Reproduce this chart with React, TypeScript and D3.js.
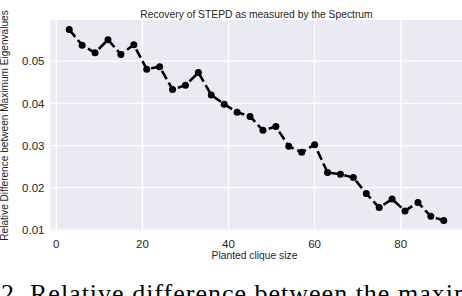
import React from "react";
import * as d3 from "d3";

// planted clique sizes and the measured relative difference
const cliqueSizes = [3, 6, 9, 12, 15, 18, 21, 24, 27, 30, 33, 36, 39, 42, 45, 48, 51, 54, 57, 60, 63, 66, 69, 72, 75, 78, 81, 84, 87, 90];
const relDiff = [
  0.0575, 0.0538, 0.0520, 0.0551, 0.0516, 0.0539, 0.0481, 0.0487, 0.0433, 0.0443,
  0.0473, 0.0420, 0.0398, 0.0379, 0.0369, 0.0336, 0.0345, 0.0298, 0.0284, 0.0302,
  0.0236, 0.0232, 0.0224, 0.0186, 0.0153, 0.0173, 0.0145, 0.0165, 0.0132, 0.0122,
];
const xTicks = [0, 20, 40, 60, 80];
const yTicks = [0.01, 0.02, 0.03, 0.04, 0.05];

const W = 462;
const H = 296;
const plot = { left: 50.5, right: 462.5, top: 20, bottom: 231 };
const FONT = "'Liberation Sans', Arial, sans-serif";
const TXT = "#262626";

export default function App() {
  const x = d3.scaleLinear().domain([-1.35, 94.35]).range([plot.left, plot.right]);
  const y = d3.scaleLinear().domain([0.00973, 0.05977]).range([plot.bottom, plot.top]);

  const pts = cliqueSizes.map((c, i) => [c, relDiff[i]] as [number, number]);
  const line = d3.line<[number, number]>().x(d => x(d[0])).y(d => y(d[1]));

  return (
    <div style={{ position: "absolute", left: 0, top: 0 }}>
      <svg width={W} height={H} style={{ display: "block", background: "#fff" }}>
        <rect x={plot.left} y={plot.top} width={plot.right - plot.left} height={plot.bottom - plot.top} fill="#EAEAF2" />
        {xTicks.map(t => (
          <line key={"gx" + t} x1={x(t)} x2={x(t)} y1={plot.top} y2={plot.bottom} stroke="#fff" strokeWidth={1.3} />
        ))}
        {yTicks.map(t => (
          <line key={"gy" + t} x1={plot.left} x2={plot.right} y1={y(t)} y2={y(t)} stroke="#fff" strokeWidth={1.3} />
        ))}

        <path d={line(pts) ?? ""} fill="none" stroke="#000" strokeWidth={2.6} strokeDasharray="9.5,4" />
        {pts.map((p, i) => (
          <circle key={i} cx={x(p[0])} cy={y(p[1])} r={3.5} fill="#000" />
        ))}

        {xTicks.map(t => (
          <text key={"tx" + t} x={x(t)} y={247.5} textAnchor="middle" fontFamily={FONT} fontSize={11.5} fill={TXT}>
            {t}
          </text>
        ))}
        {yTicks.map(t => (
          <text key={"ty" + t} x={44.5} y={y(t) + 4.2} textAnchor="end" fontFamily={FONT} fontSize={11.5} fill={TXT}>
            {d3.format(".2f")(t)}
          </text>
        ))}

        <text x={(plot.left + plot.right) / 2} y={17.5} textAnchor="middle" fontFamily={FONT} fontSize={10.3} fill={TXT}>
          Recovery of STEPD as measured by the Spectrum
        </text>
        <text x={254.5} y={258.5} textAnchor="middle" fontFamily={FONT} fontSize={10.3} fill={TXT}>
          Planted clique size
        </text>
        <text
          transform={`translate(8, ${(plot.top + plot.bottom) / 2}) rotate(-90)`}
          textAnchor="middle"
          fontFamily={FONT}
          fontSize={10.1}
          fill={TXT}
        >
          Relative Difference between Maximum Eigenvalues
        </text>

        {/* caption of the page below the figure, cropped by the picture's bottom edge */}
        <text x={1} y={302} fontFamily="'Liberation Serif', 'Times New Roman', serif" fontSize={26} fill="#000" letterSpacing={1}>
          2. Relative difference between the maximum
        </text>
      </svg>
    </div>
  );
}
